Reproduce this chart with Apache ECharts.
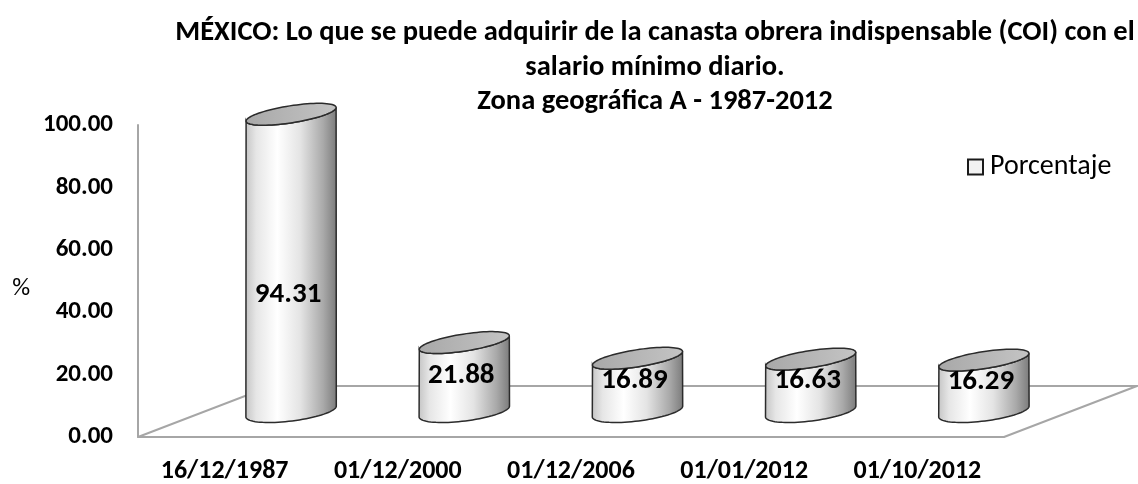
<!DOCTYPE html>
<html>
<head>
<meta charset="utf-8">
<script src="https://cdn.jsdelivr.net/npm/echarts@6/dist/echarts.min.js"></script>
<style>
  html, body { margin: 0; padding: 0; background: #fff; }
  #chart { width: 1138px; height: 484px; }
</style>
</head>
<body>
<div id="chart"></div>
<script>
// datos
const categories = ['16/12/1987', '01/12/2000', '01/12/2006', '01/01/2012', '01/10/2012'];
const porcentaje = [94.31, 21.88, 16.89, 16.63, 16.29];
const yTicks = [0, 20, 40, 60, 80, 100];

const FONT = 'Carlito, Calibri, Lato, sans-serif';
// desplazamiento de la profundidad del piso 3D (px)
const DEPTH_X = 133;
const DEPTH_Y = -51;

const chart = echarts.init(document.getElementById('chart'));

// punto sobre una elipse inclinada
function ellipsePt(cx, cy, a, b, rot, t) {
  const ct = Math.cos(t), st = Math.sin(t);
  return [
    cx + a * ct * Math.cos(rot) - b * st * Math.sin(rot),
    cy + a * ct * Math.sin(rot) + b * st * Math.cos(rot)
  ];
}

function renderFloor(params, api) {
  const cs = params.coordSys;
  const x0 = cs.x, x1 = cs.x + cs.width, yb = cs.y + cs.height;
  return {
    type: 'polyline',
    shape: { points: [[x0, yb], [x0 + DEPTH_X, yb + DEPTH_Y], [x1 + DEPTH_X, yb + DEPTH_Y], [x1, yb]] },
    style: { stroke: '#a6a6a6', lineWidth: 2, fill: null }
  };
}

function renderCylinder(params, api) {
  const v = api.value(1);
  const base = api.coord([api.value(0), 0]);
  const top = api.coord([api.value(0), v]);
  const cx = base[0] + DEPTH_X / 2;
  const by = base[1] + DEPTH_Y / 2;
  const ty = top[1] + DEPTH_Y / 2;
  const a = api.size([1, 0])[0] * 0.263;
  const bTop = 8.5, bBot = 9.5;
  const rTop = -0.155, rBot = -0.125;
  const N = 40;

  const body = [];
  body.push(ellipsePt(cx, ty, a, bTop, rTop, Math.PI));
  for (let k = 0; k <= N; k++) {
    body.push(ellipsePt(cx, by, a, bBot, rBot, Math.PI - Math.PI * k / N));
  }
  for (let k = 0; k <= N; k++) {
    body.push(ellipsePt(cx, ty, a, bTop, rTop, Math.PI * k / N));
  }
  const cap = [];
  for (let k = 0; k < 2 * N; k++) {
    cap.push(ellipsePt(cx, ty, a, bTop, rTop, Math.PI * k / N));
  }
  const h = by - ty;
  const labelY = by - 11.7 - 0.354 * h;

  return {
    type: 'group',
    children: [
      {
        type: 'polygon',
        shape: { points: body },
        style: {
          fill: {
            type: 'linear', x: 0, y: 0, x2: 1, y2: 0,
            colorStops: [
              { offset: 0, color: '#c4c4c4' },
              { offset: 0.12, color: '#e6e6e6' },
              { offset: 0.35, color: '#ffffff' },
              { offset: 0.6, color: '#e4e4e4' },
              { offset: 0.85, color: '#a9a9a9' },
              { offset: 1, color: '#7a7a7a' }
            ]
          },
          stroke: '#2b2b2b',
          lineWidth: 1.5
        }
      },
      {
        type: 'polygon',
        shape: { points: cap },
        style: {
          fill: {
            type: 'linear', x: 0, y: 0, x2: 1, y2: 0,
            colorStops: [
              { offset: 0, color: '#a8a8a8' },
              { offset: 1, color: '#c4c4c4' }
            ]
          },
          stroke: '#2b2b2b',
          lineWidth: 1.5
        }
      },
      {
        type: 'text',
        style: {
          text: v.toFixed(2),
          x: cx - 3,
          y: labelY,
          align: 'center',
          verticalAlign: 'middle',
          fontFamily: FONT,
          fontWeight: 'bold',
          fontSize: 29,
          fill: '#000'
        }
      }
    ]
  };
}

chart.setOption({
  animation: false,
  textStyle: { fontFamily: FONT },
  title: {
    text: 'MÉXICO: Lo que se puede adquirir de la canasta obrera indispensable (COI) con el\nsalario mínimo diario.\nZona geográfica A - 1987-2012',
    left: 650,
    top: 11,
    textAlign: 'center',
    textStyle: {
      fontFamily: FONT,
      fontWeight: 'bold',
      fontSize: 28.5,
      lineHeight: 34.5,
      color: '#000'
    }
  },
  legend: {
    left: 967,
    top: 153,
    padding: 0,
    itemWidth: 15,
    itemHeight: 15,
    itemGap: 0,
    textStyle: { fontFamily: FONT, fontSize: 28, color: '#000', padding: [0, 0, 0, 2] },
    data: [{
      name: 'Porcentaje',
      icon: 'rect',
      itemStyle: { color: '#f2f2f2', borderColor: '#1a1a1a', borderWidth: 2 }
    }]
  },
  grid: { left: 138, right: 134, top: 125, bottom: 45 },
  xAxis: {
    type: 'category',
    data: categories,
    axisLine: { lineStyle: { color: '#a6a6a6', width: 2 } },
    axisTick: { show: false },
    axisLabel: {
      fontFamily: FONT,
      fontWeight: 'bold',
      fontSize: 26,
      color: '#000',
      margin: 21,
      interval: 0
    }
  },
  yAxis: [
    {
      type: 'value',
      min: yTicks[0],
      max: yTicks[yTicks.length - 1],
      interval: 20,
      name: '%',
      nameLocation: 'middle',
      nameRotate: 0,
      nameGap: 108,
      nameTextStyle: { fontFamily: FONT, fontSize: 25, color: '#000', verticalAlign: 'top', lineHeight: 16 },
      axisLine: { show: true, lineStyle: { color: '#a6a6a6', width: 2 } },
      axisTick: { show: false },
      splitLine: { show: false },
      axisLabel: {
        fontFamily: FONT,
        fontWeight: 'bold',
        fontSize: 25,
        color: '#000',
        margin: 25,
        formatter: (val) => val.toFixed(2)
      }
    },
    {
      // eje oculto del plano medio (perspectiva): los cilindros se ven un poco mas altos
      type: 'value',
      show: false,
      min: 0,
      max: 99
    }
  ],
  series: [
    {
      name: 'piso',
      type: 'custom',
      silent: true,
      z: 1,
      renderItem: renderFloor,
      data: [[0, 0]]
    },
    {
      name: 'Porcentaje',
      type: 'custom',
      yAxisIndex: 1,
      z: 3,
      itemStyle: { color: '#f2f2f2' },
      encode: { x: 0, y: 1 },
      renderItem: renderCylinder,
      data: porcentaje.map((v, i) => [i, v])
    }
  ]
});
</script>
</body>
</html>
